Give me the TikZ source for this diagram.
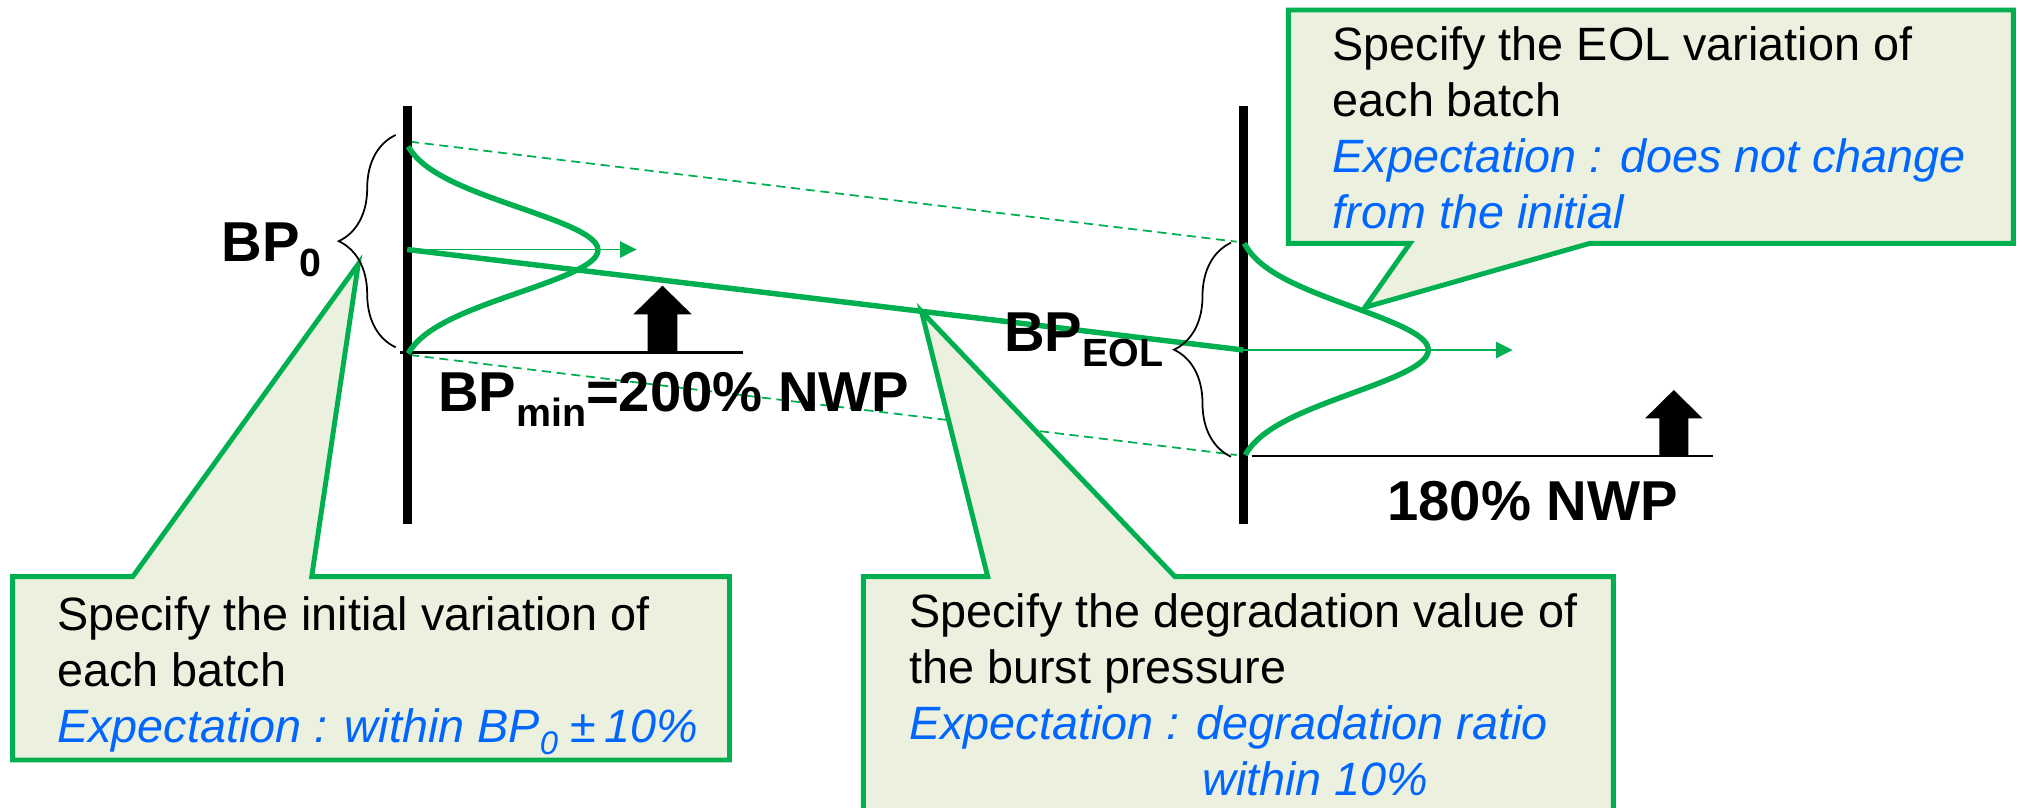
\documentclass[tikz,border=0pt]{standalone}
\usepackage{fontspec}
\setmainfont{Liberation Sans}
\usepackage{graphicx,xcolor}
\definecolor{bpgreen}{RGB}{0,176,80}
\definecolor{bpfill}{RGB}{235,241,222}
\definecolor{bpblue}{RGB}{0,102,255}
\usetikzlibrary{arrows.meta,calc,decorations.pathreplacing}
\newcommand{\bsub}[1]{\raisebox{-0.26em}{\scalebox{0.7}{#1}}}
\newcommand{\hopeline}[1]{{\color{bpblue}\itshape #1}}

\begin{document}
\begin{tikzpicture}[
  axisline/.style={line width=2.5pt},
  groundline/.style={line width=0.8pt},
  bellcurve/.style={bpgreen,line width=1.55pt},
  trendline/.style={bpgreen,line width=1.55pt},
  guideline/.style={bpgreen,line width=0.5pt,dash pattern=on 2.6pt off 1.6pt},
  meanarrow/.style={bpgreen,line width=0.45pt,-{Triangle[length=4.7pt,width=4.6pt]}},
  spread/.style={decorate,decoration={brace,amplitude=0.57cm},line width=0.5pt},
  bigtext/.style={font=\fontsize{16}{19}\selectfont\bfseries,inner sep=0pt},
  notebox/.style={draw=bpgreen,fill=bpfill,line width=1.4pt,line join=miter},
  notetext/.style={font=\fontsize{13.3}{15.9}\selectfont,align=left,inner sep=0pt,anchor=base west},
]
  \useasboundingbox (0,0) rectangle (20.22,8.07);
  \clip (0,0) rectangle (20.22,8.07);

  % centre of each batch, start and EOL
  \coordinate (c0) at (4.073,5.575);
  \coordinate (cE) at (12.433,4.57);
  \coordinate (m0) at (6.367,5.575);
  \coordinate (mE) at (15.127,4.57);

  % spread guides
  \draw[guideline] (4.10,6.653) -- (12.367,5.653);
  \draw[guideline] (4.10,4.52) -- (12.367,3.52);

  % callouts
  \coordinate (tipEOL) at (13.65,4.997);
  \coordinate (tipIni) at (3.583,5.43);
  \coordinate (tipDeg) at ($(c0)!0.615!(cE)$);
  \draw[notebox] (12.883,7.97) -- (20.133,7.97) -- (20.133,5.637) -- (15.90,5.637)
    -- (tipEOL) -- (14.10,5.637) -- (12.883,5.637) -- cycle;
  \draw[notebox] (0.127,2.303) -- (1.327,2.303) -- (tipIni) -- (3.117,2.303)
    -- (7.295,2.303) -- (7.295,0.47) -- (0.127,0.47) -- cycle;
  \draw[notebox] (8.633,-0.3) -- (8.633,2.303) -- (9.877,2.303) -- (tipDeg)
    -- (11.75,2.303) -- (16.133,2.303) -- (16.133,-0.3) -- cycle;

  % axes
  \draw[axisline] (4.073,7.01) -- (4.073,2.83);
  \draw[axisline] (12.433,7.01) -- (12.433,2.827);
  \draw[groundline] (4.00,4.547) -- (7.427,4.547);
  \draw[groundline] (12.517,3.51) -- (17.127,3.51);

  % distributions
  \draw[bellcurve] plot[domain=-1.035:1.035,samples=61,smooth]
    ({4.08+2.0*(exp(-((\x/0.6)*(\x/0.6)))-0.05)},{5.57+\x});
  \draw[bellcurve] plot[domain=-1.05:1.067,samples=61,smooth]
    ({12.44+1.93*(exp(-((\x/0.61)*(\x/0.61)))-0.045)},{4.57+\x});
  \draw[meanarrow] (c0) -- (m0);
  \draw[meanarrow] (cE) -- (mE);
  \draw[trendline] (c0) -- (cE);

  % braces
  \draw[spread] (3.957,4.597) -- (3.957,6.72);
  \draw[spread] (12.31,3.503) -- (12.31,5.643);

  % pressure limits
  \fill (6.477,4.553) -- (6.477,4.927) -- (6.333,4.927) -- (6.625,5.213)
    -- (6.917,4.927) -- (6.773,4.927) -- (6.773,4.553) -- cycle;
  \fill (16.593,3.51) -- (16.593,3.887) -- (16.451,3.887) -- (16.738,4.17)
    -- (17.025,3.887) -- (16.883,3.887) -- (16.883,3.51) -- cycle;

  \node[bigtext,anchor=base west] (bp0) at (2.207,5.453) {BP\bsub{0}};
  \node[bigtext,anchor=base west] (bpmin) at (4.373,3.953) {BP\bsub{min}=200\% NWP};
  \node[bigtext,anchor=base west] (bpeol) at (10.033,4.553) {BP\bsub{EOL}};
  \node[bigtext,anchor=base west] (nwp) at (13.867,2.87) {180\% NWP};

  \node[notetext] (eolnote) at (13.32,5.787) {Specify the EOL variation of\\each batch\\
    \hopeline{Expectation : does not change}\\\hopeline{from the initial}};
  \node[notetext] (ininote) at (0.567,0.647) {Specify the initial variation of\\each batch\\
    \hopeline{Expectation : within BP\bsub{0} ±\,10\%}};
  \node[notetext] (degnote) at (9.087,0.12) {Specify the degradation value of\\the burst pressure\\
    \hopeline{Expectation : degradation ratio}\\\hspace*{2.93cm}\hopeline{within 10\%}};
\end{tikzpicture}
\end{document}
